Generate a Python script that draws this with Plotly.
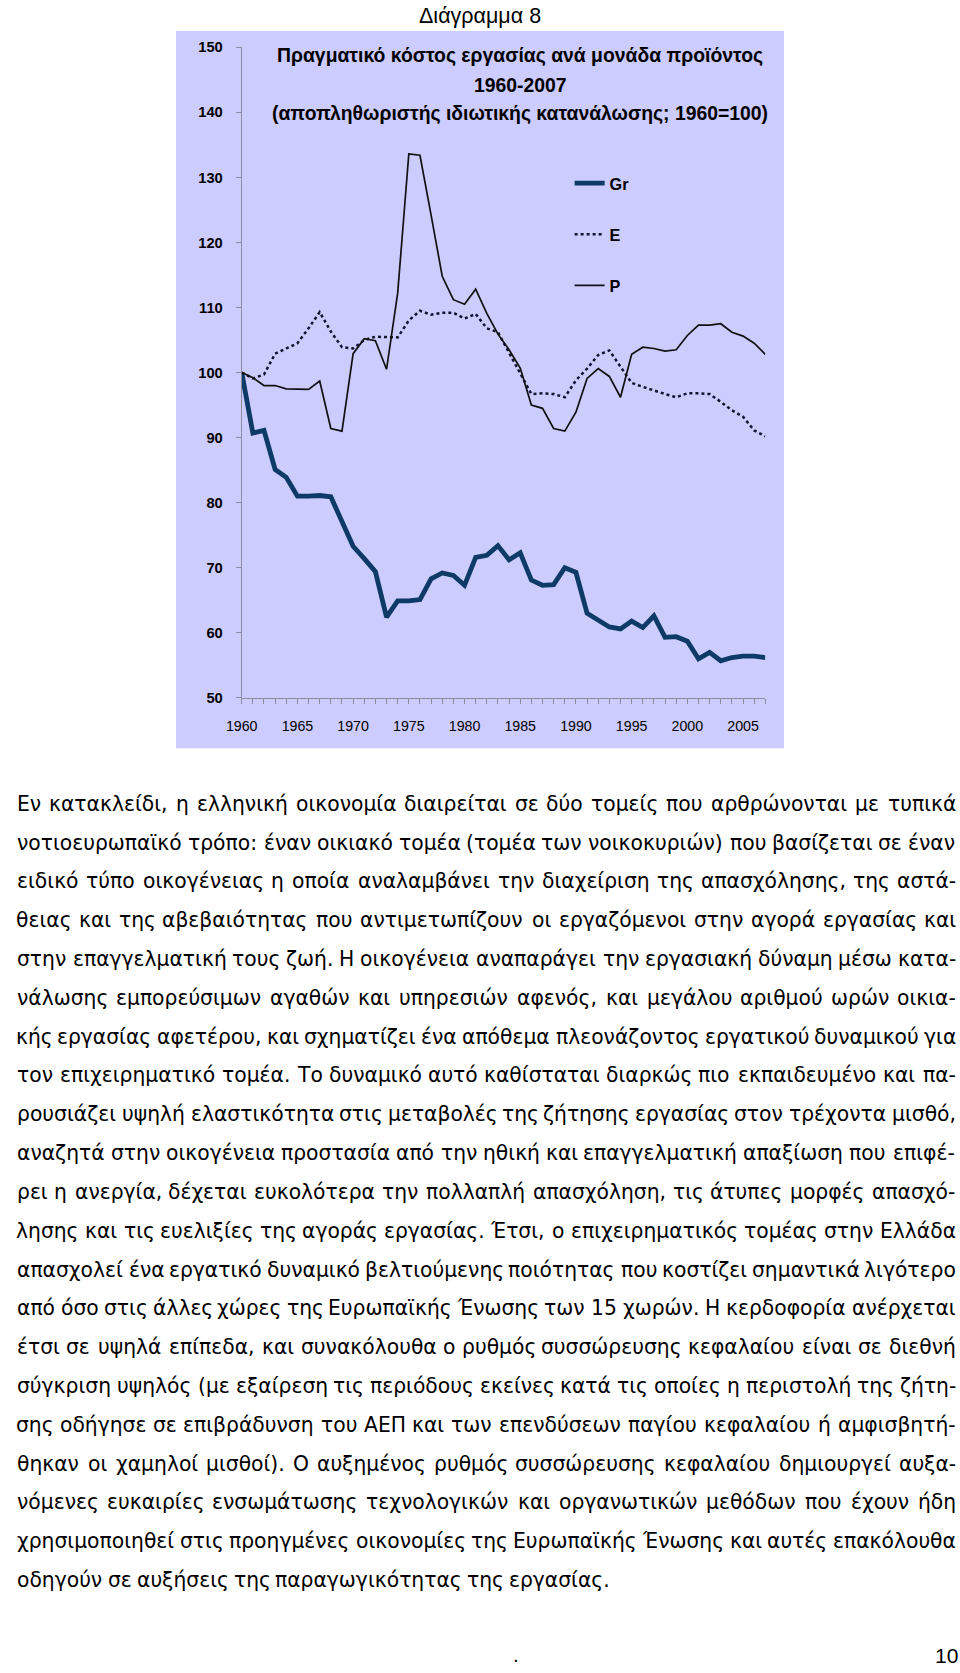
import unicodedata
import plotly.graph_objects as go

W, H = 960, 1673

# ---------------- data ----------------
years = list(range(1960, 2008))
gr = [100.0, 90.7, 91.1, 85.1, 83.9, 81.0, 81.0, 81.1, 80.9, 77.0,
      73.3, 71.4, 69.4, 62.4, 64.9, 64.9, 65.1, 68.3, 69.2, 68.8,
      67.3, 71.6, 71.9, 73.4, 71.2, 72.3, 68.1, 67.3, 67.4, 70.0,
      69.3, 63.0, 61.9, 60.9, 60.6, 61.8, 60.8, 62.6, 59.3, 59.4,
      58.7, 56.0, 57.0, 55.7, 56.2, 56.4, 56.4, 56.2]
e_vals = [100.0, 99.1, 99.7, 102.9, 103.7, 104.5, 106.8, 109.3, 106.3, 103.9,
          103.7, 105.0, 105.5, 105.4, 105.4, 108.0, 109.5, 108.9, 109.2, 109.2,
          108.3, 109.0, 106.8, 106.2, 103.0, 99.8, 96.7, 96.8, 96.7, 96.2,
          98.8, 100.6, 102.7, 103.4, 100.9, 98.4, 97.8, 97.2, 96.7, 96.2,
          96.8, 96.8, 96.7, 95.5, 94.2, 93.2, 91.1, 90.2]
p_vals = [100.0, 99.2, 98.0, 98.0, 97.5, 97.4, 97.4, 98.7, 91.4, 91.0,
          102.9, 105.2, 104.9, 100.5, 112.2, 133.6, 133.4, 124.2, 114.8, 111.2,
          110.5, 112.8, 109.1, 105.9, 103.5, 100.7, 95.0, 94.5, 91.4, 91.0,
          93.9, 99.1, 100.6, 99.4, 96.2, 102.8, 103.9, 103.7, 103.3, 103.5,
          105.7, 107.3, 107.3, 107.5, 106.2, 105.6, 104.5, 102.8]
series_names = ["Gr", "E", "P"]

page_heading = "Διάγραμμα 8"
title_lines = ["Πραγματικό κόστος εργασίας ανά μονάδα προϊόντος",
               "1960-2007",
               "(αποπληθωριστής ιδιωτικής κατανάλωσης; 1960=100)"]

body_lines = [
    "Εν κατακλείδι, η ελληνική οικονομία διαιρείται σε δύο τομείς που αρθρώνονται με τυπικά",
    "νοτιοευρωπαϊκό τρόπο: έναν οικιακό τομέα (τομέα των νοικοκυριών) που βασίζεται σε έναν",
    "ειδικό τύπο οικογένειας η οποία αναλαμβάνει την διαχείριση της απασχόλησης, της αστά-",
    "θειας και της αβεβαιότητας που αντιμετωπίζουν οι εργαζόμενοι στην αγορά εργασίας και",
    "στην επαγγελματική τους ζωή. Η οικογένεια αναπαράγει την εργασιακή δύναμη μέσω κατα-",
    "νάλωσης εμπορεύσιμων αγαθών και υπηρεσιών αφενός, και μεγάλου αριθμού ωρών οικια-",
    "κής εργασίας αφετέρου, και σχηματίζει ένα απόθεμα πλεονάζοντος εργατικού δυναμικού για",
    "τον επιχειρηματικό τομέα. Το δυναμικό αυτό καθίσταται διαρκώς πιο εκπαιδευμένο και πα-",
    "ρουσιάζει υψηλή ελαστικότητα στις μεταβολές της ζήτησης εργασίας στον τρέχοντα μισθό,",
    "αναζητά στην οικογένεια προστασία από την ηθική και επαγγελματική απαξίωση που επιφέ-",
    "ρει η ανεργία, δέχεται ευκολότερα την πολλαπλή απασχόληση, τις άτυπες μορφές απασχό-",
    "λησης και τις ευελιξίες της αγοράς εργασίας. Έτσι, ο επιχειρηματικός τομέας στην Ελλάδα",
    "απασχολεί ένα εργατικό δυναμικό βελτιούμενης ποιότητας που κοστίζει σημαντικά λιγότερο",
    "από όσο στις άλλες χώρες της Ευρωπαϊκής Ένωσης των 15 χωρών. Η κερδοφορία ανέρχεται",
    "έτσι σε υψηλά επίπεδα, και συνακόλουθα ο ρυθμός συσσώρευσης κεφαλαίου είναι σε διεθνή",
    "σύγκριση υψηλός (με εξαίρεση τις περιόδους εκείνες κατά τις οποίες η περιστολή της ζήτη-",
    "σης οδήγησε σε επιβράδυνση του ΑΕΠ και των επενδύσεων παγίου κεφαλαίου ή αμφισβητή-",
    "θηκαν οι χαμηλοί μισθοί). Ο αυξημένος ρυθμός συσσώρευσης κεφαλαίου δημιουργεί αυξα-",
    "νόμενες ευκαιρίες ενσωμάτωσης τεχνολογικών και οργανωτικών μεθόδων που έχουν ήδη",
    "χρησιμοποιηθεί στις προηγμένες οικονομίες της Ευρωπαϊκής Ένωσης και αυτές επακόλουθα",
    "οδηγούν σε αυξήσεις της παραγωγικότητας της εργασίας.",
]
page_number = "10"

# The photographed page shows the figure slightly inset/scaled; positions below
# are given in reference-page pixels and converted through this mapping.
SX, OX = 0.9833, 16.0
SY, OY = 0.9895, 8.5
FS = 1 / 0.986


def set_x(x):
    return max(0.0, (x - OX) / SX)


def set_y(y):
    return (y - OY) / SY


def px_x(x):
    return set_x(x) / W


def px_y(y):
    return 1 - set_y(y) / H


# ---------------- chart ----------------
fig = go.Figure()
fig.add_trace(go.Scatter(x=years, y=gr, mode="lines", name=series_names[0],
                         legendgroup="g1",
                         line=dict(color="#0d3a66", width=4.8)))
fig.add_trace(go.Scatter(x=years, y=e_vals, mode="lines", name=series_names[1],
                         legendgroup="g2",
                         line=dict(color="#14142e", width=2.5, dash="dot")))
fig.add_trace(go.Scatter(x=years, y=p_vals, mode="lines", name=series_names[2],
                         legendgroup="g3",
                         line=dict(color="#111111", width=1.7)))

axis_font = "Liberation Sans, Arial, sans-serif"

fig.update_layout(
    width=W, height=H, autosize=False,
    margin=dict(l=0, r=0, t=0, b=0),
    paper_bgcolor="white",
    plot_bgcolor="rgba(0,0,0,0)",
    showlegend=True,
    legend=dict(x=px_x(569.6), y=px_y(166.5), xanchor="left", yanchor="top",
                bgcolor="rgba(0,0,0,0)", tracegroupgap=27,
                font=dict(family=axis_font, size=16 * FS, color="black", weight="bold")),
    xaxis=dict(domain=[px_x(241.7), px_x(765.3)], range=[1960, 2007],
               showline=True, linecolor="#8c8c9c", linewidth=1,
               ticks="outside", ticklen=5, tickcolor="#8c8c9c",
               tick0=1960, dtick=5, showgrid=False, zeroline=False,
               ticklabelstandoff=10,
               minor=dict(dtick=1, ticks="outside", ticklen=5, tickcolor="#8c8c9c"),
               tickfont=dict(family=axis_font, size=14 * FS, color="black")),
    yaxis=dict(domain=[px_y(697.7), px_y(47.7)], range=[50, 150],
               showline=True, linecolor="#8c8c9c", linewidth=1,
               ticks="outside", ticklen=5, tickcolor="#8c8c9c",
               dtick=10, showgrid=False, zeroline=False,
               ticklabelstandoff=10,
               tickfont=dict(family=axis_font, size=14.5 * FS, color="black",
                             weight="bold")),
)

fig.add_shape(type="rect", xref="paper", yref="paper",
              x0=px_x(176), x1=px_x(784), y0=px_y(748), y1=px_y(31.5),
              fillcolor="#CCCCFF", line=dict(width=0), layer="below")

annotations = []
annotations.append(dict(text=page_heading, x=px_x(480), y=1 - 8.5 / H,
                        xref="paper", yref="paper", showarrow=False,
                        xanchor="center", yanchor="middle",
                        font=dict(family=axis_font, size=21.5, color="black")))
for txt, yc in zip(title_lines, [55.5, 85, 113]):
    annotations.append(dict(text=txt, x=px_x(520), y=px_y(yc),
                            xref="paper", yref="paper", showarrow=False,
                            xanchor="center", yanchor="middle",
                            font=dict(family=axis_font, size=19.1 * FS, color="black",
                                      weight="bold")))

# ---------------- body text (justified, word by word) ----------------
BASE_W = {
    'α': .659, 'β': .638, 'γ': .592, 'δ': .612, 'ε': .541, 'ζ': .544, 'η': .634,
    'θ': .612, 'ι': .338, 'κ': .589, 'λ': .592, 'μ': .636, 'ν': .592, 'ξ': .544,
    'ο': .612, 'π': .652, 'ρ': .635, 'σ': .634, 'ς': .55, 'τ': .598, 'υ': .579,
    'φ': .76, 'χ': .592, 'ψ': .76, 'ω': .827,
    'Α': .684, 'Ε': .632, 'Η': .752, 'Ο': .787, 'Π': .752, 'Τ': .611, 'Ι': .295,
    ' ': .318, ',': .318, '.': .318, ':': .337, ';': .337, '-': .361,
    '(': .39, ')': .39,
}
SAFETY = 1.01


def char_em(c):
    if c.isdigit():
        return 0.636
    if c in BASE_W:
        return BASE_W[c]
    d = unicodedata.normalize("NFD", c)
    base = d[0]
    w = BASE_W.get(base, 0.6)
    if base.isupper() and len(d) > 1:
        w += 0.15
    return w


def word_em(wd):
    return SAFETY * sum(char_em(c) for c in wd)


TEXT_L = 1.0                      # set-space pixels (leftmost reachable)
TEXT_R = set_x(956.0)
TEXT_W = TEXT_R - TEXT_L
body_font = "DejaVu Sans, Verdana, sans-serif"

nat = []
for ln in body_lines[:-1]:
    ws = ln.split(" ")
    nat.append(sum(word_em(w) for w in ws) + (len(ws) - 1) * 0.26)
fs = min(21.0, min(TEXT_W / n for n in nat))

y0_line, dy_line = 803.5, 38.78
for i, ln in enumerate(body_lines):
    yc = px_y(y0_line + i * dy_line)
    ws = ln.split(" ")
    widths = [word_em(w) * fs for w in ws]
    if i < len(body_lines) - 1 and len(ws) > 1:
        gap = (TEXT_W - sum(widths)) / (len(ws) - 1)
    else:
        gap = 0.30 * fs
    xcur = TEXT_L
    for w, wd in zip(ws, widths):
        annotations.append(dict(text=w, x=(xcur + wd / 2) / W, y=yc,
                                xref="paper", yref="paper", showarrow=False,
                                xanchor="center", yanchor="middle",
                                font=dict(family=body_font, size=fs, color="black")))
        xcur += wd + gap

annotations.append(dict(text=".", x=px_x(516), y=1 - 1663 / H,
                        xref="paper", yref="paper", showarrow=False,
                        xanchor="center", yanchor="middle",
                        font=dict(family=body_font, size=18, color="black")))
annotations.append(dict(text=page_number, x=1.0, y=1 - 1663 / H,
                        xref="paper", yref="paper", showarrow=False,
                        xanchor="right", yanchor="middle",
                        font=dict(family="Liberation Sans Narrow, Liberation Sans, Arial",
                                  size=21, color="black")))

fig.update_layout(annotations=annotations)
fig.write_html("out.html")
